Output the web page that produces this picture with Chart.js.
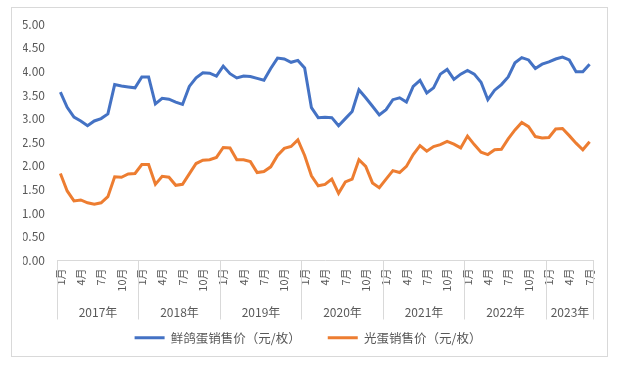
<!DOCTYPE html>
<html>
<head>
<meta charset="utf-8">
<script src="https://cdn.jsdelivr.net/npm/chart.js@4.4.0/dist/chart.umd.min.js"></script>
<style>
  html, body { margin: 0; padding: 0; background: #ffffff; }
  #frame { position: absolute; left: 11px; top: 7px; width: 597px; height: 350px; border: 1px solid #d9d9d9; box-sizing: border-box; }
  #c { position: absolute; left: 0; top: 0; }
</style>
</head>
<body>
<div id="frame"><canvas id="c" width="595" height="348"></canvas></div>
<script>
const years = ['2017年', '2018年', '2019年', '2020年', '2021年', '2022年', '2023年'];
const monthsInYear = [12, 12, 12, 12, 12, 12, 7];
const shownMonths = [1, 4, 7, 10];

const pigeonEggPrice = [
  3.56, 3.24, 3.03, 2.95, 2.85, 2.95, 3.00, 3.10, 3.72, 3.69, 3.67, 3.65,
  3.88, 3.88, 3.31, 3.43, 3.41, 3.35, 3.30, 3.68, 3.86, 3.97, 3.96, 3.90,
  4.11, 3.95, 3.86, 3.90, 3.89, 3.85, 3.81, 4.06, 4.28, 4.26, 4.19, 4.23,
  4.07, 3.23, 3.02, 3.03, 3.02, 2.85, 3.00, 3.15, 3.61, 3.44, 3.26, 3.08,
  3.19, 3.40, 3.44, 3.35, 3.68, 3.81, 3.54, 3.65, 3.94, 4.04, 3.83, 3.94,
  4.02, 3.94, 3.77, 3.40, 3.60, 3.72, 3.88, 4.18, 4.29, 4.24, 4.06, 4.15,
  4.20, 4.26, 4.30, 4.24, 3.99, 3.99, 4.15
];
const eggPrice = [
  1.84, 1.47, 1.26, 1.28, 1.22, 1.19, 1.22, 1.35, 1.77, 1.76, 1.83, 1.84,
  2.03, 2.03, 1.61, 1.78, 1.76, 1.59, 1.61, 1.83, 2.05, 2.12, 2.13, 2.18,
  2.39, 2.38, 2.13, 2.13, 2.09, 1.86, 1.88, 1.98, 2.22, 2.37, 2.41, 2.55,
  2.22, 1.79, 1.58, 1.61, 1.72, 1.42, 1.66, 1.72, 2.13, 1.99, 1.64, 1.54,
  1.72, 1.90, 1.86, 1.99, 2.24, 2.43, 2.31, 2.41, 2.45, 2.52, 2.46, 2.38,
  2.63, 2.45, 2.29, 2.24, 2.34, 2.35, 2.57, 2.76, 2.92, 2.83, 2.62, 2.59,
  2.60, 2.78, 2.79, 2.64, 2.48, 2.34, 2.51
];
const seriesNames = ['鲜鸽蛋销售价（元/枚）', '光蛋销售价（元/枚）'];

const categories = [];
const monthNumbers = [];
years.forEach((y, k) => {
  for (let m = 1; m <= monthsInYear[k]; m++) {
    categories.push(y + m + '月');
    monthNumbers.push(m);
  }
});

const FONT = '"Noto Sans CJK SC", "Noto Sans", sans-serif';
const TEXT = '#595959';
const LINE = '#d9d9d9';

const yearAxisPlugin = {
  id: 'yearAxis',
  afterDraw(chart) {
    const xs = chart.scales.x;
    const ctx = chart.ctx;
    const top = chart.chartArea.bottom;
    const bottom = top + 59;
    ctx.save();
    ctx.strokeStyle = LINE;
    ctx.lineWidth = 1;
    ctx.fillStyle = TEXT;
    ctx.font = '12px ' + FONT;
    ctx.textAlign = 'center';
    ctx.textBaseline = 'middle';
    let start = 0;
    years.forEach((y, k) => {
      const end = start + monthsInYear[k] - 1;
      const x0 = Math.round(xs.getPixelForValue(start - 0.5)) + 0.5;
      const x1 = Math.round(xs.getPixelForValue(end + 0.5)) + 0.5;
      ctx.beginPath();
      ctx.moveTo(x0, top);
      ctx.lineTo(x0, bottom);
      ctx.stroke();
      if (k === years.length - 1) {
        ctx.beginPath();
        ctx.moveTo(x1, top);
        ctx.lineTo(x1, bottom);
        ctx.stroke();
      }
      ctx.fillText(y, (x0 + x1) / 2, top + 52);
      start = end + 1;
    });
    ctx.restore();
  }
};

new Chart(document.getElementById('c'), {
  type: 'line',
  data: {
    labels: categories,
    datasets: [
      { label: seriesNames[0], data: pigeonEggPrice, borderColor: '#4472C4', backgroundColor: '#4472C4', borderWidth: 3, pointRadius: 0, tension: 0 },
      { label: seriesNames[1], data: eggPrice, borderColor: '#ED7D31', backgroundColor: '#ED7D31', borderWidth: 3, pointRadius: 0, tension: 0 }
    ]
  },
  options: {
    responsive: false,
    animation: false,
    layout: { padding: { left: 11, right: 14, top: 16, bottom: 2 } },
    plugins: {
      tooltip: { enabled: false },
      legend: {
        position: 'bottom',
        labels: {
          color: TEXT,
          font: { family: FONT, size: 12.5 },
          boxWidth: 30,
          boxHeight: 3,
          padding: 27,
          generateLabels(chart) {
            return Chart.defaults.plugins.legend.labels.generateLabels(chart).map(l => Object.assign(l, { lineWidth: 0, fillStyle: l.strokeStyle }));
          }
        }
      }
    },
    scales: {
      x: {
        type: 'category',
        offset: true,
        grid: { display: false, drawTicks: false },
        border: { display: true, color: LINE, width: 1 },
        ticks: {
          autoSkip: false,
          minRotation: 90,
          maxRotation: 90,
          padding: 8,
          color: TEXT,
          font: { family: FONT, size: 11 },
          callback(v, i) {
            const m = monthNumbers[i];
            return shownMonths.includes(m) ? m + '月' : '';
          }
        },
        afterFit(scale) { scale.height = 44; scale.paddingLeft = 0; scale.paddingRight = 0; }
      },
      y: {
        min: 0,
        max: 5,
        grid: { display: false, drawTicks: false },
        border: { display: false },
        ticks: {
          stepSize: 0.5,
          padding: 12,
          color: TEXT,
          font: { family: FONT, size: 12 },
          callback(v) { return Number(v).toFixed(2); }
        },
        afterFit(scale) { scale.width = 34; scale.paddingTop = 0; scale.paddingBottom = 0; }
      }
    }
  },
  plugins: [yearAxisPlugin]
});
</script>
</body>
</html>
